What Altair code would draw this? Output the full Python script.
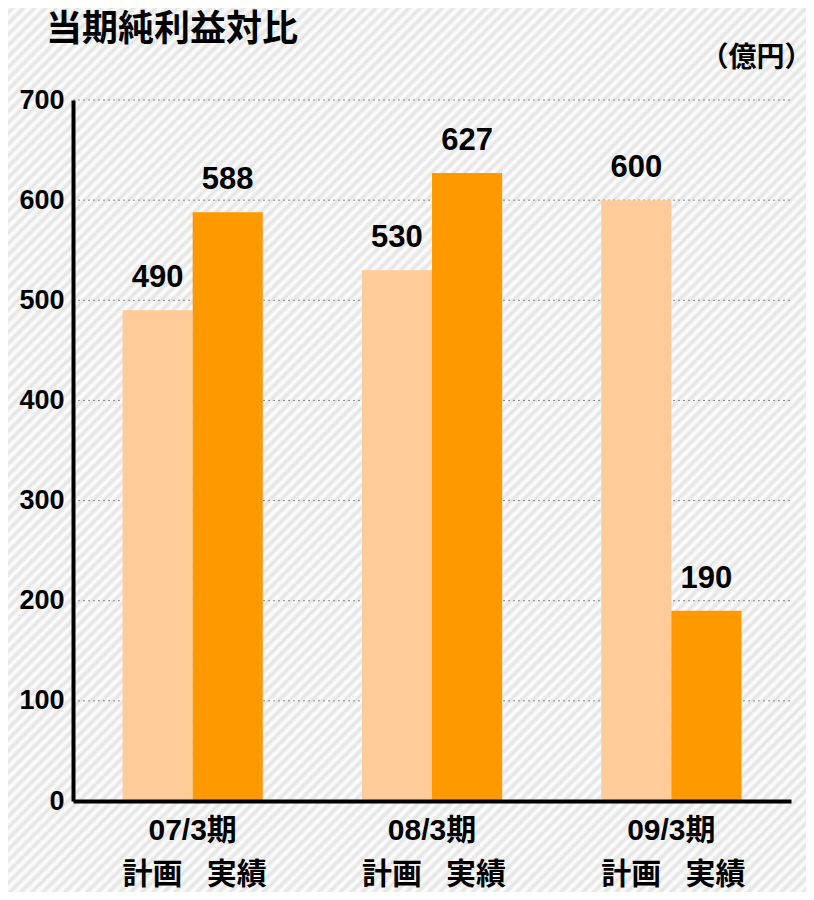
import altair as alt
import pandas as pd

title_text = "当期純利益対比"
unit_text = "（億円）"
periods = ["07/3期", "08/3期", "09/3期"]
types = ["計画", "実績"]
plan = [490, 530, 600]
actual = [588, 627, 190]
grid_values = [100, 200, 300, 400, 500, 600, 700]

rows = []
for p, a, b in zip(periods, plan, actual):
    rows.append({"period": p, "type": "計画", "value": a})
    rows.append({"period": p, "type": "実績", "value": b})
df = pd.DataFrame(rows)
grid_df = pd.DataFrame({"value": grid_values})

W, H = 718, 701
JP = "Noto Sans CJK JP"
NUM = "Liberation Sans, Noto Sans CJK JP"

# striped background (decoration)
N = 167
stops = []
for k in range(N):
    stops.append(alt.GradientStop(offset=k / N, color="#ffffff"))
    stops.append(alt.GradientStop(offset=(k + 0.5) / N, color="#e3e3e3"))
stops.append(alt.GradientStop(offset=1, color="#ffffff"))
grad = alt.LinearGradient(gradient="linear", stops=stops, x1=0, y1=0, x2=1, y2=1)

bg = alt.Chart(pd.DataFrame({"d": [0]})).mark_rect(color=grad).encode(
    x=alt.value(-80), x2=alt.value(840), y=alt.value(-100), y2=alt.value(820)
)

grid = alt.Chart(grid_df).mark_rule(strokeDash=[2, 3], color="#888888", strokeWidth=1).encode(
    y=alt.Y("value:Q"), x=alt.value(0), x2=alt.value(W)
)

xenc = alt.X(
    "period:N",
    sort=periods,
    scale=alt.Scale(paddingInner=0.414, paddingOuter=0.207),
    axis=alt.Axis(
        title=None, labelAngle=0, labelFont=NUM, labelFontSize=30, labelFontWeight="bold",
        labelColor="black", labelPadding=14, ticks=False, domainColor="black",
        domainWidth=4, zindex=1, grid=False,
    ),
)
yenc = alt.Y(
    "value:Q",
    scale=alt.Scale(domain=[0, 700]),
    axis=alt.Axis(
        values=[0, 100, 200, 300, 400, 500, 600, 700], grid=False, ticks=False,
        labelFont=NUM, labelFontSize=27, labelFontWeight="bold", labelColor="black",
        labelPadding=9, domainColor="black", domainWidth=4, zindex=1,
        title=unit_text, titleAngle=0, titleX=739, titleY=-42, titleAlign="right",
        titleBaseline="middle", titleFont=JP, titleFontSize=28, titleFontWeight="bold",
        titleColor="black",
    ),
)
xoff = alt.XOffset("type:N", sort=types)

bars = alt.Chart(df).mark_bar().encode(
    x=xenc, xOffset=xoff, y=yenc,
    color=alt.Color("type:N", sort=types,
                    scale=alt.Scale(domain=types, range=["#FFCC99", "#FF9900"]),
                    legend=None),
)

labels = alt.Chart(df).mark_text(
    dy=-32, baseline="middle", font=NUM, fontSize=31, fontWeight="bold", color="black"
).encode(x=alt.X("period:N", sort=periods), xOffset=xoff, y=alt.Y("value:Q"), text="value:Q")

def type_layer(t, dx):
    return alt.Chart(df).transform_filter(alt.datum.type == t).mark_text(
        baseline="middle", font=JP, fontSize=30, fontWeight="bold", color="black", dx=dx
    ).encode(x=alt.X("period:N", sort=periods), xOffset=xoff, y=alt.value(775), text="type:N")

typelab_plan = type_layer("計画", -5)
typelab_act = type_layer("実績", 9)

title = alt.Chart(pd.DataFrame({"t": [title_text]})).mark_text(
    align="left", baseline="middle", font=JP, fontSize=36, fontWeight="bold", color="black"
).encode(x=alt.value(-27), y=alt.value(-70), text="t:N")

chart = alt.layer(bg, grid, bars, labels, typelab_plan, typelab_act, title).properties(
    width=W, height=H,
    padding={"left": 65, "top": 92, "right": 15, "bottom": 91},
    autosize="none",
).configure_view(stroke=None).configure(background="white")

chart.save("out.html", embed_options={"renderer": "svg", "actions": False})
